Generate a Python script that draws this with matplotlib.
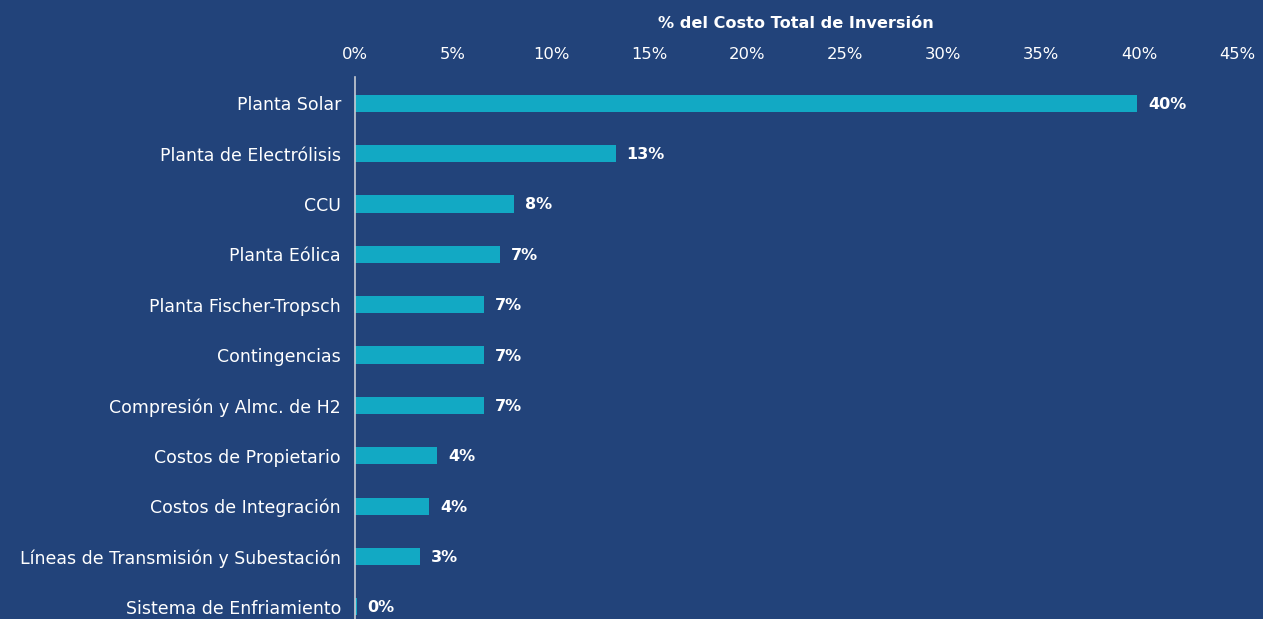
import matplotlib.pyplot as plt
from matplotlib.ticker import FuncFormatter

# data (% of total investment cost)
categories = ['Planta Solar', 'Planta de Electrólisis', 'CCU', 'Planta Eólica',
              'Planta Fischer-Tropsch', 'Contingencias', 'Compresión y Almc. de H2',
              'Costos de Propietario', 'Costos de Integración',
              'Líneas de Transmisión y Subestación', 'Sistema de Enfriamiento']
values = [39.9, 13.3, 8.1, 7.4, 6.6, 6.6, 6.6, 4.2, 3.8, 3.3, 0.1]
labels = ['40%', '13%', '8%', '7%', '7%', '7%', '7%', '4%', '4%', '3%', '0%']

bg = '#22437A'
bar_color = '#12A9C4'

plt.rcParams['font.family'] = ['DejaVu Sans']

fig = plt.figure(figsize=(12.63, 6.19), dpi=100, facecolor=bg)
ax = fig.add_axes([355/1263, 0.0, (1237-355)/1263, (619-77)/619])
ax.set_facecolor(bg)

y = list(range(len(categories)))
ax.barh(y, values, height=0.34, color=bar_color)
for yi, v, lab in zip(y, values, labels):
    ax.text(v + 0.55, yi + 0.02, lab, va='center', ha='left', color='white',
            fontsize=11.5, fontweight='bold')

ax.set_xlim(0, 45)
ax.set_ylim(10.24, -0.52)
ax.set_yticks(y)
ax.set_yticklabels(categories, color='white', fontsize=12.5)
ax.xaxis.tick_top()
ax.set_xticks(range(0, 46, 5))
ax.xaxis.set_major_formatter(FuncFormatter(lambda x, p: f'{int(x)}%'))
ax.tick_params(axis='x', colors='white', labelsize=11.8, length=0, pad=11)
ax.tick_params(axis='y', length=0, pad=10)
for s in ['top', 'right', 'bottom']:
    ax.spines[s].set_visible(False)
ax.spines['left'].set_color('#C8CCD4')
ax.spines['left'].set_linewidth(1.2)

fig.text((355+1237)/2/1263, 1 - 23/619, '% del Costo Total de Inversión',
         ha='center', va='center', color='white', fontsize=11.6, fontweight='bold')

fig.savefig('out.png', dpi=100, facecolor=bg)
